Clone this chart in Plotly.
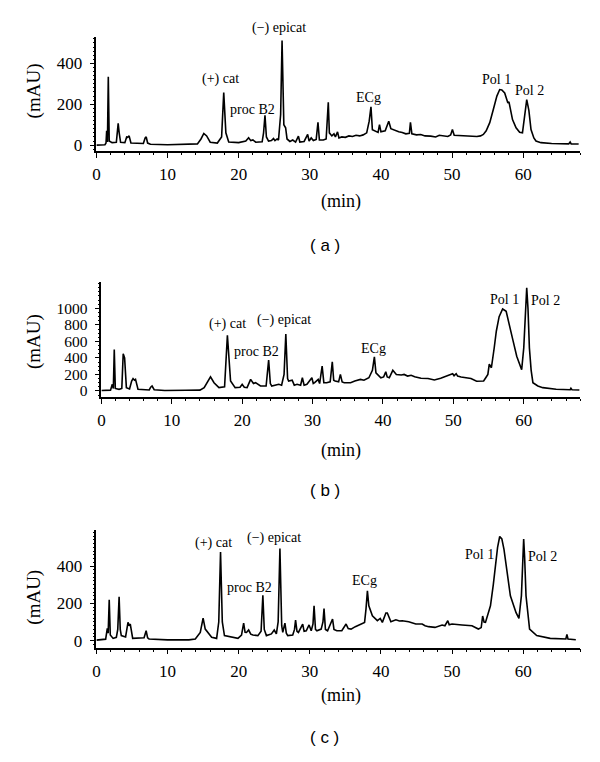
import plotly.graph_objects as go

# ---------------- data ----------------
a_t = [0, 1.2, 1.35, 1.44, 1.55, 1.67, 1.8, 2.2, 2.8, 2.95, 3.06, 3.2, 3.4, 4.0, 4.25, 4.4, 4.6, 4.85,
       6.6, 6.85, 7.0, 7.2, 7.6, 10, 13, 14.2, 14.7, 15.1, 15.5, 16.0, 17.0, 17.6, 17.9, 18.2, 18.6,
       20.0, 21.0, 21.4, 21.7, 22.0, 22.4, 23.3, 23.5, 23.7, 23.9, 24.2, 24.6, 24.9, 25.1, 25.4, 25.6,
       25.9, 26.1, 26.35, 26.6, 26.8, 27.2, 27.6, 28.0, 28.4, 28.6, 29.2, 29.7, 29.9, 30.2, 30.5, 30.9,
       31.15, 31.35, 31.9, 32.3, 32.45, 32.6, 32.75, 33.1, 33.4, 33.6, 33.9, 34.1, 34.5, 35.0, 35.5,
       36.0, 36.5, 37.0, 37.5, 38.0, 38.35, 38.6, 38.8, 39.2, 39.6, 39.8, 40.0, 40.6, 41.1, 41.4, 42.0,
       42.5, 43.0, 43.5, 44.0, 44.15, 44.35, 45, 45.6, 46.2, 47, 47.7, 48.2, 48.8, 49.4, 49.8, 50.05,
       50.3, 51, 52, 52.8, 53.5, 54.0, 54.4, 54.8, 55.06, 55.3, 55.8, 56.3, 56.7, 57.0, 57.4, 57.7,
       57.85, 58.0, 58.2, 58.5, 59.0, 59.5, 59.9, 60.2, 60.5, 60.8, 61.1, 61.5, 61.8, 62.5, 64, 66.4,
       66.6, 66.75, 67.8]
a_v = [0, 2, 10, 70, 15, 335, 20, 12, 14, 95, 106, 60, 14, 12, 40, 38, 45, 10,
       8, 35, 40, 10, 4, 2, 3, 6, 30, 57, 45, 14, 10, 40, 257, 60, 15,
       12, 20, 36, 22, 25, 14, 16, 60, 146, 40, 20, 22, 32, 22, 30, 25,
       150, 512, 100, 85, 30, 18, 25, 15, 44, 15, 18, 52, 20, 35, 22, 28,
       112, 25, 25, 30, 100, 210, 60, 45, 55, 40, 65, 35, 40, 38, 45,
       42, 48, 45, 50, 60, 117, 187, 75, 68, 62, 100, 65, 70, 117, 80, 70,
       65, 62, 55, 58, 112, 55, 50, 52, 45, 44, 40, 48, 45, 42, 50, 76,
       48, 46, 45, 44, 42, 45, 52, 70, 93, 110, 174, 240, 272, 270, 255, 220,
       206, 212, 180, 125, 85, 63, 60, 130, 223, 170, 76, 35, 20, 12, 8, 6,
       15, 6, 5]

b_t = [0, 1.3, 1.55, 1.7, 1.83, 1.98, 2.5, 2.9, 3.1, 3.3, 3.55, 4.0, 4.3, 4.5, 4.7, 4.85, 5.2,
       6.8, 7.0, 7.2, 7.5, 9, 12, 14, 14.6, 15.07, 15.5, 16.0, 16.7, 17.5, 17.9, 18.35, 19.0, 19.7,
       20.0, 20.3, 20.7, 21.2, 21.6, 21.9, 22.6, 23.4, 23.76, 24.0, 24.2, 25.2, 25.6, 25.95, 26.2,
       26.45, 26.6, 27.1, 27.4, 27.8, 28.3, 28.55, 28.8, 29.2, 29.9, 30.1, 30.3, 30.8, 31.0, 31.36,
       31.6, 32.0, 32.5, 32.8, 33.0, 33.2, 33.7, 33.95, 34.2, 34.5, 35.4, 36.0, 36.8, 37.3, 38.0,
       38.5, 38.78, 39.0, 39.2, 39.7, 40.1, 40.4, 40.6, 40.9, 41.4, 41.9, 42.6, 43.0, 43.5, 44.0,
       44.5, 45.4, 46.4, 47.3, 48.2, 49.2, 49.6, 49.9, 50.1, 50.4, 50.6, 51.1, 52.5, 53.3, 54.3,
       54.6, 54.9, 55.1, 55.25, 55.4, 55.8, 56.1, 56.5, 57.0, 57.5, 58.0, 58.5, 59.0, 59.4, 59.7,
       60.0, 60.25, 60.42, 60.6, 60.8, 61.05, 61.3, 62.0, 62.7, 64.6, 66.6, 66.7, 66.85, 67.9]
b_v = [5, 10, 80, 30, 502, 30, 20, 30, 450, 400, 40, 25, 120, 150, 130, 140, 20,
       12, 45, 60, 15, 6, 8, 10, 40, 112, 170, 100, 40, 50, 675, 120, 40, 45,
       80, 45, 40, 140, 90, 100, 60, 60, 373, 90, 60, 80, 70, 200, 690,
       150, 120, 130, 70, 80, 70, 160, 70, 80, 160, 90, 100, 140, 90, 300,
       100, 100, 110, 353, 130, 120, 110, 200, 110, 100, 100, 120, 140, 130, 160,
       250, 414, 220, 200, 160, 170, 233, 170, 160, 250, 200, 193, 200, 180, 190,
       173, 153, 150, 133, 153, 180, 200, 209, 185, 209, 180, 169, 150, 117, 120,
       160, 200, 325, 290, 281, 520, 723, 900, 992, 964, 800, 600, 420, 310, 257,
       522, 1000, 1250, 1000, 522, 250, 100, 60, 40, 20, 15, 32, 15, 12]

c_t = [0, 1.3, 1.53, 1.65, 1.8, 1.95, 2.35, 2.8, 3.0, 3.19, 3.35, 3.5, 4.1, 4.44, 4.6, 4.76, 5.1,
       6.7, 6.99, 7.2, 7.4, 10, 13, 13.9, 14.6, 15.0, 15.3, 15.5, 16.2, 16.9, 17.2, 17.45, 17.7, 18.0,
       19.0, 19.9, 20.4, 20.7, 20.9, 21.1, 21.4, 21.7, 22.0, 22.7, 23.15, 23.4, 23.6, 23.9, 24.6,
       25.0, 25.3, 25.55, 25.8, 26.05, 26.2, 26.5, 26.7, 26.9, 27.6, 27.85, 28.0, 28.2, 28.4, 29.0,
       29.2, 29.5, 29.9, 30.2, 30.45, 30.6, 30.8, 31.0, 31.6, 31.85, 32.0, 32.2, 32.5, 33.2, 33.4,
       33.8, 34.5, 35.1, 35.4, 35.8, 36.4, 37.0, 37.7, 37.9, 38.1, 38.3, 38.8, 39.5, 39.9, 40.2,
       40.7, 40.9, 41.4, 42.1, 42.6, 43.0, 43.9, 44.9, 45.8, 46.2, 46.7, 47.6, 48.6, 49.0, 49.4,
       49.6, 50.0, 51.4, 52.8, 53.7, 54.1, 54.3, 54.5, 54.7, 55.4, 55.8, 56.1, 56.4, 56.7, 57.0,
       57.3, 57.8, 58.2, 59.0, 59.4, 59.75, 60.07, 60.2, 60.4, 60.9, 61.9, 63.8, 66.0, 66.15, 66.3,
       67.4]
c_v = [3, 8, 66, 40, 219, 30, 12, 18, 60, 235, 60, 27, 20, 98, 80, 89, 12,
       15, 53, 15, 9, 4, 4, 9, 44, 121, 62, 53, 18, 12, 100, 475, 100, 27,
       18, 12, 30, 94, 45, 44, 57, 35, 30, 27, 50, 243, 60, 27, 36,
       57, 36, 100, 494, 80, 44, 94, 40, 27, 30, 60, 110, 50, 44, 89,
       50, 53, 84, 53, 90, 187, 60, 53, 62, 100, 172, 60, 53, 116, 60,
       53, 53, 89, 65, 62, 75, 84, 98, 169, 267, 187, 133, 107, 119, 98,
       148, 148, 101, 112, 105, 107, 101, 89, 89, 80, 75, 71, 84, 80, 107,
       85, 89, 84, 80, 62, 70, 132, 100, 98, 187, 300, 418, 500, 558, 545,
       489, 350, 240, 150, 119, 240, 545, 450, 240, 62, 27, 12, 9, 34, 9,
       5]

labels = ["(+) cat", "proc B2", "(\u2212) epicat", "ECg", "Pol 1", "Pol 2"]
a_lab_t = [17.5, 22.0, 25.6, 38.3, 56.3, 60.9]
a_lab_v = [322, 175, 576, 234, 322, 268]
b_lab_t = [17.9, 22.1, 25.9, 38.6, 57.2, 63.1]
b_lab_v = [807, 482, 855, 518, 1108, 1096]
c_lab_t = [16.5, 21.5, 24.9, 37.7, 53.9, 62.7]
c_lab_v = [523, 283, 549, 320, 464, 453]

x_ticks = [0, 10, 20, 30, 40, 50, 60]
a_yticks = [0, 200, 400]
b_yticks = [0, 200, 400, 600, 800, 1000]
c_yticks = [0, 200, 400]
panel_names = ["( a )", "( b )", "( c )"]

# ---------------- figure ----------------
# the page body has an 8px margin, so the figure is drawn 8px in from the window corner
OFF = 8
W, H = 584, 746
SERIF = "Liberation Serif, Times New Roman, serif"
SANS = "Liberation Sans, Arial, sans-serif"


def px_x(p):
    return (p - OFF) / W


def px_y(p):
    return 1 - (p - OFF) / H


panels = [
    dict(t=a_t, v=a_v, lt=a_lab_t, lv=a_lab_v, yt=a_yticks, yr=[-30, 530], ymd=20, yfs=17,
         x0=93, x1=580, ytop=37, ybot=152, mau=91, minlab=203, plab=247),
    dict(t=b_t, v=b_v, lt=b_lab_t, lv=b_lab_v, yt=b_yticks, yr=[-72, 1325], ymd=50, yfs=15.5,
         x0=98, x1=580, ytop=283, ybot=399, mau=343, minlab=453, plab=493),
    dict(t=c_t, v=c_v, lt=c_lab_t, lv=c_lab_v, yt=c_yticks, yr=[-37, 592], ymd=20, yfs=17,
         x0=93, x1=580, ytop=533, ybot=651, mau=600, minlab=699, plab=741),
]

fig = go.Figure()
annotations = []
layout = {}
for i, p in enumerate(panels):
    n = "" if i == 0 else str(i + 1)
    xa, ya = "x" + n, "y" + n
    fig.add_trace(go.Scatter(x=p["t"], y=p["v"], mode="lines", xaxis=xa, yaxis=ya,
                             line=dict(color="black", width=1.6), showlegend=False,
                             hoverinfo="skip"))
    layout["xaxis" + n] = dict(
        domain=[px_x(p["x0"]), px_x(p["x1"])], anchor=ya, range=[0, 68],
        tickvals=x_ticks, ticks="outside", ticklen=5, tickwidth=1.2, tickcolor="black",
        minor=dict(dtick=2, tick0=0, ticks="outside", ticklen=2.5, tickwidth=1, tickcolor="black"),
        showline=True, linecolor="black", linewidth=1.5, showgrid=False, zeroline=False,
        ticklabelstandoff=2,
        tickfont=dict(family=SERIF, size=17, color="black"), fixedrange=True)
    layout["yaxis" + n] = dict(
        domain=[px_y(p["ybot"]), px_y(p["ytop"])], anchor=xa, range=p["yr"],
        tickvals=p["yt"], ticks="outside", ticklen=5, tickwidth=1.2, tickcolor="black",
        minor=dict(dtick=p["ymd"], tick0=0, ticks="outside", ticklen=2, tickwidth=1, tickcolor="black"),
        showline=True, linecolor="black", linewidth=1.5, showgrid=False, zeroline=False,
        ticklabelstandoff=4,
        tickfont=dict(family=SERIF, size=p["yfs"], color="black"), fixedrange=True)
    for lab, lt, lv in zip(labels, p["lt"], p["lv"]):
        annotations.append(dict(x=lt, y=lv, xref=xa, yref=ya, text=lab, showarrow=False,
                                xanchor="center", yanchor="middle",
                                font=dict(family=SERIF, size=14, color="black")))
    annotations.append(dict(x=px_x(30), y=px_y(p["mau"]), xref="paper", yref="paper",
                            text="(mAU)", textangle=-90, showarrow=False,
                            xanchor="center", yanchor="middle",
                            font=dict(family=SERIF, size=19, color="black")))
    annotations.append(dict(x=px_x(339), y=px_y(p["minlab"]), xref="paper", yref="paper",
                            text="(min)", showarrow=False, xanchor="center", yanchor="middle",
                            font=dict(family=SERIF, size=18, color="black")))
    annotations.append(dict(x=px_x(323), y=px_y(p["plab"]), xref="paper", yref="paper",
                            text=panel_names[i], showarrow=False, xanchor="center",
                            yanchor="middle",
                            font=dict(family=SANS, size=17, color="black")))

# panel (a): the epicatechin label sits above the plotting area -> place it in paper space
annotations[2].update(xref="paper", yref="paper", x=px_x(277), y=px_y(28))

fig.update_layout(width=W, height=H, margin=dict(l=0, r=0, t=0, b=0),
                  paper_bgcolor="white", plot_bgcolor="white",
                  annotations=annotations, **layout)

fig.write_html("out.html")
